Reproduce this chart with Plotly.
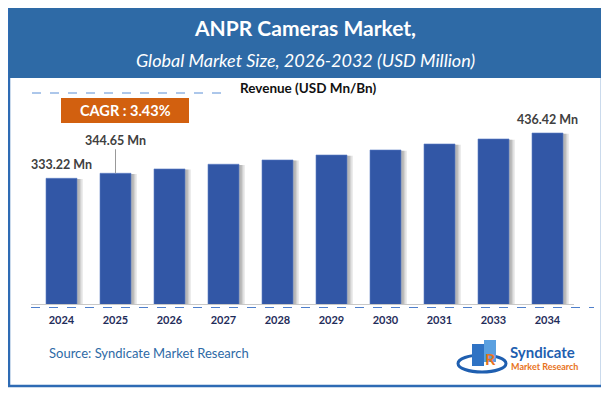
import plotly.graph_objects as go

# page has an 8px body margin, so the figure is drawn 8px smaller and offset
OFF = 8
W, H = 609 - OFF, 393 - OFF
years = ["2024", "2025", "2026", "2027", "2028", "2029", "2030", "2031", "2033", "2034"]
revenue = [333.22, 344.65, 354.5, 365.2, 375.0, 386.3, 397.7, 411.4, 422.8, 436.42]
labelled = {"2024": "333.22 Mn", "2025": "344.65 Mn", "2034": "436.42 Mn"}

title_text = "ANPR Cameras Market,"
subtitle_text = "Global Market Size, 2026-2032 (USD Million)"
legend_text = "Revenue (USD Mn/Bn)"
cagr_text = "CAGR : 3.43%"
source_text = "Source: Syndicate Market Research"

BLUE_BAR = "#3257A6"
HEADER = "#2E6AA6"
FONT = "Lato, 'Open Sans', sans-serif"


def fx(x):
    return (x - OFF) / W


def fy(y):
    return 1 - (y - OFF) / H


fig = go.Figure()

# soft shadow layers to the right of each bar
for off, op in [(0.11, 0.10), (0.08, 0.14), (0.05, 0.18)]:
    fig.add_trace(go.Bar(
        x=years, y=[v - 1.5 for v in revenue], width=0.574, offset=-0.287 + off,
        marker=dict(color=f"rgba(60,60,60,{op})", line=dict(width=0)),
        hoverinfo="skip", showlegend=False))

fig.add_trace(go.Bar(
    x=years, y=revenue, width=0.574, offset=-0.287,
    marker=dict(color=BLUE_BAR, line=dict(width=0.6, color="#5B7CC4")),
    showlegend=False))

shapes = []
shapes.append(dict(type="rect", xref="paper", yref="paper",
                   x0=fx(9), x1=fx(602), y0=fy(386), y1=fy(7),
                   line=dict(color="#2E6BB4", width=2.5), fillcolor="white", layer="below"))
shapes.append(dict(type="rect", xref="paper", yref="paper",
                   x0=fx(9), x1=fx(602), y0=fy(78), y1=fy(7),
                   line=dict(width=0), fillcolor=HEADER, layer="below"))
shapes.append(dict(type="line", xref="paper", yref="paper",
                   x0=fx(32), x1=fx(227), y0=fy(93), y1=fy(93),
                   line=dict(color="#5B8FD6", width=1, dash="dash")))
shapes.append(dict(type="rect", xref="paper", yref="paper",
                   x0=fx(61), x1=fx(189), y0=fy(123), y1=fy(98),
                   line=dict(width=0), fillcolor="#D2600F"))
shapes.append(dict(type="line", xref="paper", yref="paper",
                   x0=fx(31), x1=fx(574), y0=fy(304.5), y1=fy(304.5),
                   line=dict(color="#C8C8C8", width=1)))
shapes.append(dict(type="line", xref="paper", yref="paper",
                   x0=fx(31), x1=fx(594), y0=fy(307.5), y1=fy(307.5),
                   line=dict(color="#4F7FCB", width=1, dash="dash")))
# logo swoosh and blocks
shapes.append(dict(type="circle", xref="paper", yref="paper",
                   x0=fx(458), x1=fx(506), y0=fy(372), y1=fy(355),
                   line=dict(color="#1F5FB0", width=3)))
shapes.append(dict(type="rect", xref="paper", yref="paper",
                   x0=fx(472), x1=fx(484), y0=fy(366), y1=fy(344),
                   line=dict(width=0), fillcolor="#2F73C4"))
shapes.append(dict(type="rect", xref="paper", yref="paper",
                   x0=fx(484), x1=fx(496), y0=fy(362), y1=fy(340),
                   line=dict(width=0), fillcolor="#5AA0E0"))

annotations = [
    dict(text=f"<b>{title_text}</b>", x=fx(305), y=fy(27), xref="paper", yref="paper",
         showarrow=False, font=dict(family=FONT, size=21, color="white"),
         xanchor="center", yanchor="middle"),
    dict(text=f"<i>{subtitle_text}</i>", x=fx(305), y=fy(60), xref="paper", yref="paper",
         showarrow=False, font=dict(family=FONT, size=18, color="white"),
         xanchor="center", yanchor="middle"),
    dict(text=f"<b>{legend_text}</b>", x=fx(238), y=fy(88), xref="paper", yref="paper",
         showarrow=False, font=dict(family=FONT, size=13.5, color="#111111"),
         xanchor="left", yanchor="middle"),
    dict(text=f"<b>{cagr_text}</b>", x=fx(125), y=fy(110.5), xref="paper", yref="paper",
         showarrow=False, font=dict(family=FONT, size=14.5, color="white"),
         xanchor="center", yanchor="middle"),
    dict(text=source_text, x=fx(47), y=fy(353), xref="paper", yref="paper",
         showarrow=False, font=dict(family=FONT, size=13, color="#2E6AA6"),
         xanchor="left", yanchor="middle"),
    dict(text="<b>Syndicate</b>", x=fx(508), y=fy(352), xref="paper", yref="paper",
         showarrow=False, font=dict(family=FONT, size=15, color="#1F5FB0"),
         xanchor="left", yanchor="middle"),
    dict(text="<b>Market Research</b>", x=fx(509), y=fy(366), xref="paper", yref="paper",
         showarrow=False, font=dict(family=FONT, size=9, color="#E8731C"),
         xanchor="left", yanchor="middle"),
    dict(text="<b>R</b>", x=fx(491), y=fy(358), xref="paper", yref="paper",
         showarrow=False, font=dict(family=FONT, size=16, color="#E8731C"),
         xanchor="center", yanchor="middle"),
]

for i, (yr, val) in enumerate(zip(years, revenue)):
    if yr in labelled:
        if yr == "2025":
            annotations.append(dict(
                x=i, y=val, xref="x", yref="y", text=f"<b>{labelled[yr]}</b>",
                showarrow=True, arrowhead=0, arrowwidth=1, arrowcolor="#999999",
                ax=0, ay=-33, standoff=0,
                font=dict(family=FONT, size=12.5, color="#404040")))
        else:
            annotations.append(dict(
                x=i, y=val, xref="x", yref="y", text=f"<b>{labelled[yr]}</b>",
                showarrow=False, yanchor="bottom", yshift=4,
                font=dict(family=FONT, size=12.5, color="#404040")))

fig.update_layout(
    width=W, height=H,
    margin=dict(l=0, r=0, t=0, b=0, pad=0),
    paper_bgcolor="white", plot_bgcolor="rgba(0,0,0,0)",
    barmode="overlay",
    shapes=shapes, annotations=annotations,
    xaxis=dict(domain=[fx(34.5), fx(574.5)], range=[-0.5, 9.5], type="category",
               showgrid=False, zeroline=False, showline=False, ticks="",
               tickfont=dict(family=FONT, size=11, color="#1F2D5A"),
               tickprefix="<b>", ticksuffix="</b>", ticklabelstandoff=8),
    yaxis=dict(domain=[fy(304), fy(110)], range=[46.9, 488.8],
               showgrid=False, zeroline=False, showline=False, showticklabels=False),
)

fig.write_html("out.html")
